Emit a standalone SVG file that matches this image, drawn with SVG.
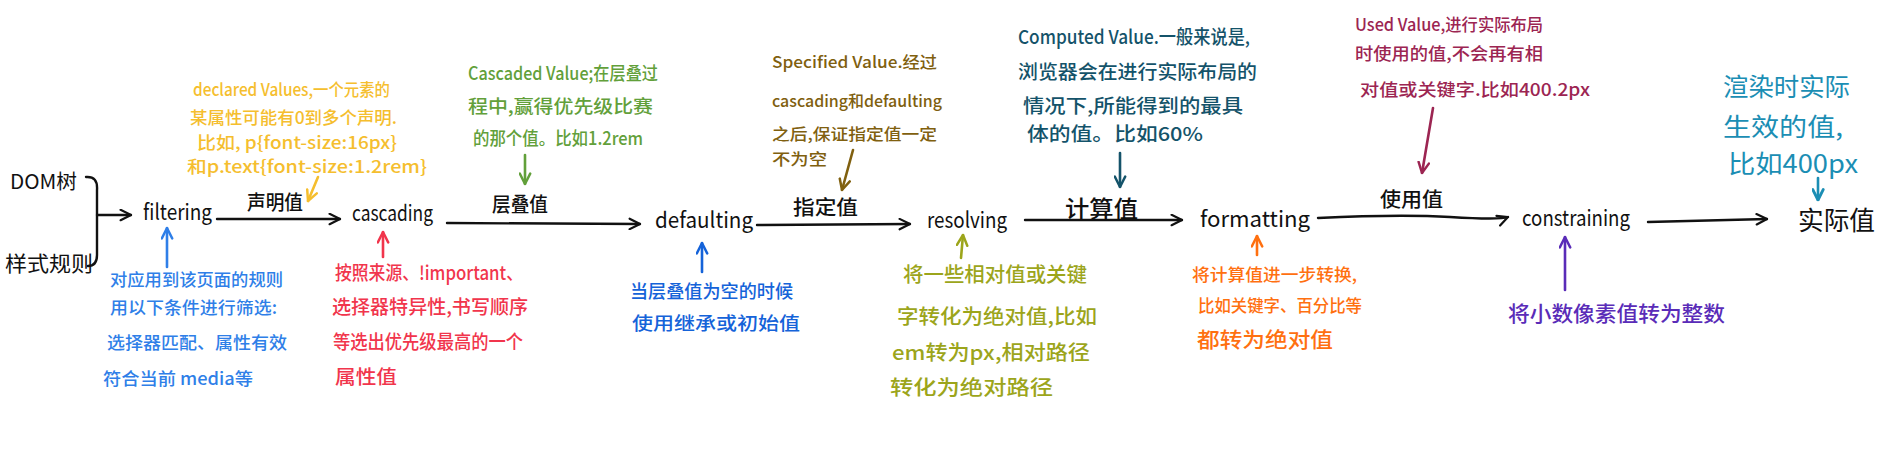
<svg xmlns="http://www.w3.org/2000/svg" width="1884" height="463" viewBox="0 0 1884 463">
<style>
text{font-family:"Noto Sans CJK SC","Liberation Sans",sans-serif;}
.n{fill:#111;font-size:22px;}
.lb{fill:#111;font-size:20px;font-weight:500;}
.ln{fill:none;stroke:#111;stroke-width:2.4;stroke-linecap:round;stroke-linejoin:round;}
.an{fill:none;stroke-width:2.6;stroke-linecap:round;}
.t{font-weight:500;}
.yel{fill:#F5BE2E;} .blu{fill:#2F7FE8;} .red{fill:#F1354C;} .grn{fill:#62A03A;} .dbl{fill:#1563D9;}
.brn{fill:#80600F;} .olv{fill:#9CA51B;} .tea{fill:#14536A;} .org{fill:#FF7010;} .mar{fill:#9C2552;}
.pur{fill:#5A2CB8;} .tbl{fill:#1B8EB4;}
</style>
<defs>
<marker id="m-k" viewBox="0 0 10 10" refX="9" refY="5" markerWidth="13" markerHeight="13" markerUnits="userSpaceOnUse" orient="auto"><path d="M1,1 L9,5 L1,9" fill="none" stroke="#111" stroke-width="1.7" stroke-linecap="round" stroke-linejoin="round"/></marker>
<marker id="m-yel" viewBox="0 0 10 10" refX="9" refY="5" markerWidth="13" markerHeight="13" markerUnits="userSpaceOnUse" orient="auto"><path d="M1,1 L9,5 L1,9" fill="none" stroke="#F5BE2E" stroke-width="1.9" stroke-linecap="round" stroke-linejoin="round"/></marker>
<marker id="m-blu" viewBox="0 0 10 10" refX="9" refY="5" markerWidth="13" markerHeight="13" markerUnits="userSpaceOnUse" orient="auto"><path d="M1,1 L9,5 L1,9" fill="none" stroke="#2F7FE8" stroke-width="1.9" stroke-linecap="round" stroke-linejoin="round"/></marker>
<marker id="m-red" viewBox="0 0 10 10" refX="9" refY="5" markerWidth="13" markerHeight="13" markerUnits="userSpaceOnUse" orient="auto"><path d="M1,1 L9,5 L1,9" fill="none" stroke="#F1354C" stroke-width="1.9" stroke-linecap="round" stroke-linejoin="round"/></marker>
<marker id="m-grn" viewBox="0 0 10 10" refX="9" refY="5" markerWidth="13" markerHeight="13" markerUnits="userSpaceOnUse" orient="auto"><path d="M1,1 L9,5 L1,9" fill="none" stroke="#62A03A" stroke-width="1.9" stroke-linecap="round" stroke-linejoin="round"/></marker>
<marker id="m-dbl" viewBox="0 0 10 10" refX="9" refY="5" markerWidth="13" markerHeight="13" markerUnits="userSpaceOnUse" orient="auto"><path d="M1,1 L9,5 L1,9" fill="none" stroke="#1563D9" stroke-width="1.9" stroke-linecap="round" stroke-linejoin="round"/></marker>
<marker id="m-brn" viewBox="0 0 10 10" refX="9" refY="5" markerWidth="13" markerHeight="13" markerUnits="userSpaceOnUse" orient="auto"><path d="M1,1 L9,5 L1,9" fill="none" stroke="#80600F" stroke-width="1.9" stroke-linecap="round" stroke-linejoin="round"/></marker>
<marker id="m-olv" viewBox="0 0 10 10" refX="9" refY="5" markerWidth="13" markerHeight="13" markerUnits="userSpaceOnUse" orient="auto"><path d="M1,1 L9,5 L1,9" fill="none" stroke="#9CA51B" stroke-width="1.9" stroke-linecap="round" stroke-linejoin="round"/></marker>
<marker id="m-tea" viewBox="0 0 10 10" refX="9" refY="5" markerWidth="13" markerHeight="13" markerUnits="userSpaceOnUse" orient="auto"><path d="M1,1 L9,5 L1,9" fill="none" stroke="#14536A" stroke-width="1.9" stroke-linecap="round" stroke-linejoin="round"/></marker>
<marker id="m-org" viewBox="0 0 10 10" refX="9" refY="5" markerWidth="13" markerHeight="13" markerUnits="userSpaceOnUse" orient="auto"><path d="M1,1 L9,5 L1,9" fill="none" stroke="#FF7010" stroke-width="1.9" stroke-linecap="round" stroke-linejoin="round"/></marker>
<marker id="m-mar" viewBox="0 0 10 10" refX="9" refY="5" markerWidth="13" markerHeight="13" markerUnits="userSpaceOnUse" orient="auto"><path d="M1,1 L9,5 L1,9" fill="none" stroke="#9C2552" stroke-width="1.9" stroke-linecap="round" stroke-linejoin="round"/></marker>
<marker id="m-pur" viewBox="0 0 10 10" refX="9" refY="5" markerWidth="13" markerHeight="13" markerUnits="userSpaceOnUse" orient="auto"><path d="M1,1 L9,5 L1,9" fill="none" stroke="#5A2CB8" stroke-width="1.9" stroke-linecap="round" stroke-linejoin="round"/></marker>
<marker id="m-tbl" viewBox="0 0 10 10" refX="9" refY="5" markerWidth="13" markerHeight="13" markerUnits="userSpaceOnUse" orient="auto"><path d="M1,1 L9,5 L1,9" fill="none" stroke="#1B8EB4" stroke-width="2.2" stroke-linecap="round" stroke-linejoin="round"/></marker>
</defs>
<rect width="1884" height="463" fill="#fff"/>

<g id="connectors">
<path class="ln" d="M86,177 Q98,176 97,190 L97,255 Q97,266 88,266"/>
<path class="ln" d="M97,215 L131,215" marker-end="url(#m-k)"/>
<path class="ln" d="M217,219 L340,219" marker-end="url(#m-k)"/>
<text class="lb" x="247" y="210" textLength="56" lengthAdjust="spacingAndGlyphs">声明值</text>
<path class="ln" d="M447,223 L640,224" marker-end="url(#m-k)"/>
<text class="lb" x="492" y="212" textLength="56" lengthAdjust="spacingAndGlyphs">层叠值</text>
<path class="ln" d="M757,225 L910,224" marker-end="url(#m-k)"/>
<text class="lb" x="793" y="215" textLength="65" lengthAdjust="spacingAndGlyphs">指定值</text>
<path class="ln" d="M1025,220 L1182,220" marker-end="url(#m-k)"/>
<text class="lb" x="1065" y="217" textLength="73" lengthAdjust="spacingAndGlyphs" style="font-size:23px">计算值</text>
<path class="ln" d="M1318,218 Q1400,214 1450,217 T1508,217" marker-end="url(#m-k)"/>
<text class="lb" x="1380" y="207" textLength="63" lengthAdjust="spacingAndGlyphs">使用值</text>
<path class="ln" d="M1648,222 L1767,219" marker-end="url(#m-k)"/>
</g>

<g id="node-dom"><text class="n" x="10" y="189" textLength="67" lengthAdjust="spacingAndGlyphs" style="font-size:20px">DOM树</text></g>
<g id="node-style"><text class="n" x="5" y="271" textLength="88" lengthAdjust="spacingAndGlyphs" style="font-size:21px">样式规则</text></g>
<g id="node-filtering"><text class="n" x="143" y="220" textLength="69" lengthAdjust="spacingAndGlyphs">filtering</text></g>
<g id="node-cascading"><text class="n" x="352" y="221" textLength="81" lengthAdjust="spacingAndGlyphs">cascading</text></g>
<g id="node-defaulting"><text class="n" x="655" y="228" textLength="98" lengthAdjust="spacingAndGlyphs">defaulting</text></g>
<g id="node-resolving"><text class="n" x="927" y="228" textLength="80" lengthAdjust="spacingAndGlyphs">resolving</text></g>
<g id="node-formatting"><text class="n" x="1200" y="227" textLength="110" lengthAdjust="spacingAndGlyphs">formatting</text></g>
<g id="node-constraining"><text class="n" x="1522" y="226" textLength="108" lengthAdjust="spacingAndGlyphs">constraining</text></g>
<g id="node-actual"><text class="n" x="1798" y="230" textLength="77" lengthAdjust="spacingAndGlyphs" style="font-size:26px">实际值</text></g>

<g id="note-declared" class="t yel" style="font-size:17px">
<text x="193" y="96" textLength="197" lengthAdjust="spacingAndGlyphs">declared Values,一个元素的</text>
<text x="190" y="124" textLength="207" lengthAdjust="spacingAndGlyphs">某属性可能有0到多个声明.</text>
<text x="197" y="149" textLength="200" lengthAdjust="spacingAndGlyphs">比如, p{font-size:16px}</text>
<text x="187" y="173" textLength="240" lengthAdjust="spacingAndGlyphs">和p.text{font-size:1.2rem}</text>
<path class="an" stroke="#F5BE2E" d="M318,177 L308,201" marker-end="url(#m-yel)"/>
</g>

<g id="note-filtering" class="t blu" style="font-size:17px">
<text x="110" y="286" textLength="173" lengthAdjust="spacingAndGlyphs">对应用到该页面的规则</text>
<text x="110" y="314" textLength="167" lengthAdjust="spacingAndGlyphs">用以下条件进行筛选:</text>
<text x="107" y="349" textLength="180" lengthAdjust="spacingAndGlyphs">选择器匹配、属性有效</text>
<text x="103" y="385" textLength="150" lengthAdjust="spacingAndGlyphs">符合当前 media等</text>
<path class="an" stroke="#2F7FE8" d="M167,267 L167,228" marker-end="url(#m-blu)"/>
</g>

<g id="note-cascading" class="t red" style="font-size:19px">
<text x="335" y="280" textLength="188" lengthAdjust="spacingAndGlyphs">按照来源、!important、</text>
<text x="332" y="314" textLength="196" lengthAdjust="spacingAndGlyphs">选择器特异性,书写顺序</text>
<text x="333" y="349" textLength="190" lengthAdjust="spacingAndGlyphs">等选出优先级最高的一个</text>
<text x="335" y="384" textLength="62" lengthAdjust="spacingAndGlyphs">属性值</text>
<path class="an" stroke="#F1354C" d="M383,257 L383,232" marker-end="url(#m-red)"/>
</g>

<g id="note-cascaded" class="t grn" style="font-size:18px">
<text x="468" y="80" textLength="190" lengthAdjust="spacingAndGlyphs">Cascaded Value;在层叠过</text>
<text x="468" y="113" textLength="185" lengthAdjust="spacingAndGlyphs">程中,赢得优先级比赛</text>
<text x="473" y="145" textLength="170" lengthAdjust="spacingAndGlyphs">的那个值。比如1.2rem</text>
<path class="an" stroke="#62A03A" d="M525,155 L525,184" marker-end="url(#m-grn)"/>
</g>

<g id="note-defaulting" class="t dbl" style="font-size:18px">
<text x="630" y="298" textLength="163" lengthAdjust="spacingAndGlyphs">当层叠值为空的时候</text>
<text x="632" y="330" textLength="168" lengthAdjust="spacingAndGlyphs">使用继承或初始值</text>
<path class="an" stroke="#1563D9" d="M702,272 L702,243" marker-end="url(#m-dbl)"/>
</g>

<g id="note-specified" class="t brn" style="font-size:16px">
<text x="772" y="68" textLength="165" lengthAdjust="spacingAndGlyphs">Specified Value.经过</text>
<text x="772" y="107" textLength="170" lengthAdjust="spacingAndGlyphs">cascading和defaulting</text>
<text x="772" y="140" textLength="165" lengthAdjust="spacingAndGlyphs">之后,保证指定值一定</text>
<text x="772" y="165" textLength="55" lengthAdjust="spacingAndGlyphs">不为空</text>
<path class="an" stroke="#80600F" d="M853,150 L842,190" marker-end="url(#m-brn)"/>
</g>

<g id="note-resolving" class="t olv" style="font-size:20px">
<text x="903" y="282" textLength="184" lengthAdjust="spacingAndGlyphs">将一些相对值或关键</text>
<text x="897" y="324" textLength="200" lengthAdjust="spacingAndGlyphs">字转化为绝对值,比如</text>
<text x="892" y="360" textLength="198" lengthAdjust="spacingAndGlyphs">em转为px,相对路径</text>
<text x="890" y="395" textLength="163" lengthAdjust="spacingAndGlyphs">转化为绝对路径</text>
<path class="an" stroke="#9CA51B" d="M961,258 L963,235" marker-end="url(#m-olv)"/>
</g>

<g id="note-computed" class="t tea" style="font-size:19px">
<text x="1018" y="44" textLength="232" lengthAdjust="spacingAndGlyphs">Computed Value.一般来说是,</text>
<text x="1018" y="79" textLength="239" lengthAdjust="spacingAndGlyphs">浏览器会在进行实际布局的</text>
<text x="1023" y="113" textLength="220" lengthAdjust="spacingAndGlyphs">情况下,所能得到的最具</text>
<text x="1027" y="141" textLength="176" lengthAdjust="spacingAndGlyphs">体的值。比如60%</text>
<path class="an" stroke="#14536A" d="M1120,153 L1120,187" marker-end="url(#m-tea)"/>
</g>

<g id="note-formatting" class="t org" style="font-size:17px">
<text x="1192" y="281" textLength="165" lengthAdjust="spacingAndGlyphs">将计算值进一步转换,</text>
<text x="1198" y="312" textLength="164" lengthAdjust="spacingAndGlyphs">比如关键字、百分比等</text>
<text x="1197" y="347" textLength="136" lengthAdjust="spacingAndGlyphs" style="font-size:21px">都转为绝对值</text>
<path class="an" stroke="#FF7010" d="M1257,255 L1257,236" marker-end="url(#m-org)"/>
</g>

<g id="note-used" class="t mar" style="font-size:17px">
<text x="1355" y="31" textLength="188" lengthAdjust="spacingAndGlyphs">Used Value,进行实际布局</text>
<text x="1355" y="60" textLength="188" lengthAdjust="spacingAndGlyphs">时使用的值,不会再有相</text>
<text x="1360" y="96" textLength="230" lengthAdjust="spacingAndGlyphs">对值或关键字.比如400.2px</text>
<path class="an" stroke="#9C2552" d="M1433,108 L1422,173" marker-end="url(#m-mar)"/>
</g>

<g id="note-constraining" class="t pur" style="font-size:21px">
<text x="1508" y="321" textLength="217" lengthAdjust="spacingAndGlyphs">将小数像素值转为整数</text>
<path class="an" stroke="#5A2CB8" d="M1565,290 L1565,237" marker-end="url(#m-pur)"/>
</g>

<g id="note-actual" class="tbl" style="font-size:25px">
<text x="1723" y="96" textLength="127" lengthAdjust="spacingAndGlyphs">渲染时实际</text>
<text x="1723" y="136" textLength="120" lengthAdjust="spacingAndGlyphs">生效的值,</text>
<text x="1728" y="173" textLength="130" lengthAdjust="spacingAndGlyphs">比如400px</text>
<path class="an" stroke="#1B8EB4" d="M1818,178 L1818,200" marker-end="url(#m-tbl)"/>
</g>
</svg>
